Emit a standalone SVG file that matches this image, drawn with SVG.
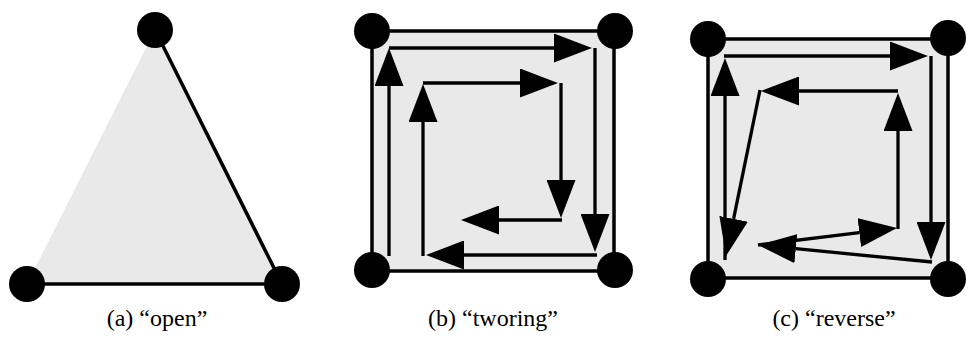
<svg xmlns="http://www.w3.org/2000/svg" width="966" height="340" viewBox="0 0 966 340">
<style>
.bg{fill:#e9e9e9;stroke:none}
.edge{stroke:#000;stroke-width:3.5;fill:none}
.arr{stroke:#000;stroke-width:3.3;fill:none;marker-end:url(#ah)}
.node{fill:#000}
.lbl{font-family:"Liberation Serif","DejaVu Serif",serif;font-size:24px;fill:#000;text-anchor:middle}
</style>
<defs>
<marker id="ah" markerUnits="userSpaceOnUse" markerWidth="38" markerHeight="29" viewBox="0 0 38 29" refX="0" refY="14.5" orient="auto">
<path d="M0,0 L38,14.5 L0,29 z" fill="#000"/>
</marker>
</defs>
<rect width="966" height="340" fill="#fff"/>

<!-- panel a -->
<g id="panel-a">
<polygon class="bg" points="155,30 27,284 282,284"/>
<g id="connectors-a">
<line class="edge" x1="155" y1="30" x2="282" y2="284"/>
<line class="edge" x1="27" y1="284" x2="282" y2="284"/>
</g>
<g id="a-top"><circle class="node" cx="155" cy="30" r="18"/></g>
<g id="a-bl"><circle class="node" cx="27" cy="284" r="18"/></g>
<g id="a-br"><circle class="node" cx="282" cy="284" r="18"/></g>
<text class="lbl" x="157" y="326">(a) “open”</text>
</g>

<!-- panel b -->
<g id="panel-b">
<rect class="bg" x="372" y="31" width="242" height="240"/>
<g id="connectors-b">
<rect class="edge" x="372" y="31" width="242" height="240"/>
<line class="arr" x1="389" y1="256" x2="389" y2="86"/>
<line class="arr" x1="389" y1="48" x2="554" y2="48"/>
<line class="arr" x1="595" y1="48" x2="595" y2="214"/>
<line class="arr" x1="597" y1="255" x2="464" y2="255"/>
<line class="arr" x1="423" y1="256" x2="423" y2="122"/>
<line class="arr" x1="423" y1="83" x2="520" y2="83"/>
<line class="arr" x1="561" y1="83" x2="561" y2="180"/>
<line class="arr" x1="562" y1="220" x2="499" y2="220"/>
</g>
<g id="b-tl"><circle class="node" cx="372" cy="31" r="18"/></g>
<g id="b-tr"><circle class="node" cx="615" cy="31" r="18"/></g>
<g id="b-bl"><circle class="node" cx="372" cy="270" r="18"/></g>
<g id="b-br"><circle class="node" cx="615" cy="270" r="18"/></g>
<text class="lbl" x="493" y="326">(b) “tworing”</text>
</g>

<!-- panel c -->
<g id="panel-c">
<rect class="bg" x="708" y="39" width="240" height="239"/>
<g id="connectors-c">
<rect class="edge" x="708" y="39" width="240" height="239"/>
<line class="arr" x1="725" y1="260" x2="725" y2="96"/>
<line class="arr" x1="724" y1="56" x2="890" y2="56"/>
<line class="arr" x1="931" y1="56" x2="931" y2="222"/>
<line class="arr" x1="932" y1="262" x2="795.8" y2="248.7"/>
<line class="arr" x1="898" y1="229" x2="898" y2="131"/>
<line class="arr" x1="898" y1="91" x2="799" y2="91"/>
<line class="arr" x1="760" y1="90" x2="733.6" y2="218.8"/>
<line class="arr" x1="758" y1="245" x2="859.3" y2="232.6"/>
</g>
<g id="c-tl"><circle class="node" cx="708" cy="39" r="18"/></g>
<g id="c-tr"><circle class="node" cx="948" cy="38" r="18"/></g>
<g id="c-bl"><circle class="node" cx="708" cy="279" r="18"/></g>
<g id="c-br"><circle class="node" cx="948" cy="279" r="18"/></g>
<text class="lbl" x="834" y="326">(c) “reverse”</text>
</g>
</svg>
